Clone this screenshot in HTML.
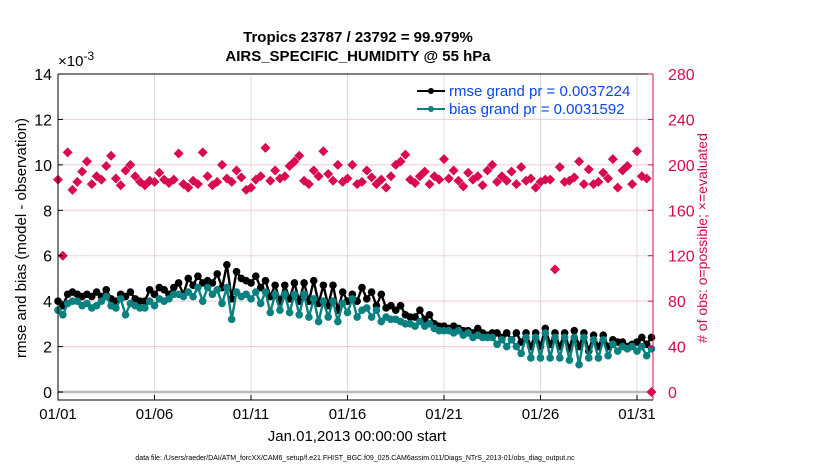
<!DOCTYPE html>
<html><head><meta charset="utf-8"><style>
body{margin:0;background:#fff;}
svg{display:block;font-family:"Liberation Sans",sans-serif;}
</style></head><body>
<svg id="chart" width="830" height="470" xmlns="http://www.w3.org/2000/svg">
<text x="358" y="42" text-anchor="middle" font-size="15" font-weight="bold">Tropics 23787 / 23792 = 99.979%</text>
<text x="358" y="61" text-anchor="middle" font-size="15" font-weight="bold">AIRS_SPECIFIC_HUMIDITY @ 55 hPa</text>
<g id="grid"></g>
<line x1="58" y1="392" x2="653" y2="392" stroke="#bbb" stroke-width="2.5"/>
<g id="marks"></g>
<g id="axes"></g>
<text x="58" y="66" font-size="15">×10<tspan dy="-6" font-size="12">-3</tspan></text>
<text transform="translate(26,238) rotate(-90)" text-anchor="middle" font-size="15">rmse and bias (model - observation)</text>
<text transform="translate(707,238) rotate(-90)" text-anchor="middle" font-size="14" fill="#d90a4e"># of obs: o=possible; ×=evaluated</text>
<text x="357" y="441" text-anchor="middle" font-size="15">Jan.01,2013 00:00:00 start</text>
<text x="355" y="460" text-anchor="middle" font-size="7">data file: /Users/raeder/DAI/ATM_forcXX/CAM6_setup/f.e21.FHIST_BGC.f09_025.CAM6assim.011/Diags_NTrS_2013-01/obs_diag_output.nc</text>
<g>
<line x1="417" y1="91" x2="445" y2="91" stroke="#000" stroke-width="2"/>
<circle cx="431" cy="91" r="3" fill="#000"/>
<text x="449" y="96" font-size="15" fill="#0a46f0">rmse grand pr = 0.0037224</text>
<line x1="417" y1="109" x2="445" y2="109" stroke="#0a8080" stroke-width="2"/>
<circle cx="431" cy="109" r="3" fill="#0a8080"/>
<text x="449" y="114" font-size="15" fill="#0a46f0">bias grand pr = 0.0031592</text>
</g>
</svg>
<script>
const rmse=[4.0,3.8,4.3,4.4, 4.3,4.2,4.3,4.2, 4.4,4.2,4.5,4.1, 4.0,4.3,4.2,4.4, 4.1,4.0,4.0,4.5, 4.3,4.6,4.5,4.3, 4.6,4.8,4.3,5.0, 4.7,5.1,4.8,4.9, 4.8,5.2,4.6,5.6, 4.1,5.3,5.0,4.9, 4.8,5.1,4.6,4.9, 4.2,4.7,4.0,4.7, 4.1,4.8,4.0,4.8, 4.0,4.9,3.9,4.7, 3.8,4.7,3.6,4.4, 4.0,4.3,4.0,4.6, 4.1,4.4,3.8,4.3, 3.7,3.8,3.6,3.8, 3.4,3.3,3.3,3.6, 3.2,3.4,3.0,2.9, 2.9,2.8,2.9,2.8, 2.7,2.7,2.6,2.8, 2.6,2.5,2.6,2.6, 2.4,2.6,2.3,2.6, 2.2,2.6,2.0,2.6, 2.0,2.8,2.1,2.6, 2.0,2.6,1.9,2.7, 2.0,2.6,1.8,2.5, 2.0,2.5,2.0,2.3, 2.2,2.2,2.0,2.1, 2.2,2.4,2.1,2.4];
const bias=[3.6,3.4,3.9,4.0, 4.0,3.8,3.9,3.7, 3.8,4.0,4.2,3.8, 3.7,4.1,3.4,3.9, 3.8,3.7,3.7,4.0, 3.8,4.1,4.0,4.1, 4.3,4.3,4.2,4.4, 4.2,4.6,4.0,4.6, 4.3,4.5,3.9,4.6, 3.2,4.4,4.2,4.3, 4.1,4.4,3.9,4.4, 3.5,4.3,3.6,4.3, 3.5,4.3,3.4,4.3, 3.3,4.1,3.1,4.0, 3.3,4.0,3.1,3.9, 3.5,4.1,3.3,3.6, 3.7,3.3,3.6,3.1, 3.3,3.2,3.2,3.1, 3.0,3.0,2.9,3.1, 2.9,3.0,2.8,2.7, 2.7,2.7,2.6,2.7, 2.5,2.6,2.4,2.5, 2.4,2.4,2.4,2.1, 2.3,2.0,2.3,2.0, 1.7,2.4,1.5,2.4, 1.5,2.6,1.5,2.4, 1.5,2.4,1.4,2.4, 1.2,2.4,1.5,2.3, 1.5,2.3,1.6,2.1, 1.8,2.0,1.9,2.0, 1.8,2.0,1.6,1.9];
const nobs=[187,120,211,178,185,194,203,183,190,187,199,208,188,182,195,200,190,185,182,186,185,193,187,184,187,210,183,180,186,183,
211,190,182,185,200,188,185,195,189,178,180,187,190,215,186,195,188,190,199,203,208,186,183,195,190,212,192,186,200,185,
188,200,183,185,195,189,183,187,180,190,200,203,209,187,184,190,194,183,190,187,205,188,195,186,181,193,187,190,182,195,
200,185,190,186,194,183,198,186,188,180,185,187,187,108,198,185,186,189,203,183,196,183,185,193,188,205,180,195,199,183,
212,190,188,0];
const xTickLabels=["01/01","01/06","01/11","01/16","01/21","01/26","01/31"];
const xTickDays=[0,5,10,15,20,25,30];
const yTicks=[0,2,4,6,8,10,12,14];
const y2Ticks=[0,40,80,120,160,200,240,280];
const NS="http://www.w3.org/2000/svg";
const X0=58,X1=653,PX_DAY=19.3;
const xs=i=>X0+(i/4)*PX_DAY;
const xd=d=>X0+d*PX_DAY;
const yL=v=>392-v*(318/14);
const yR=n=>392-n*(318/280);
function mk(tag,attrs,parent){const e=document.createElementNS(NS,tag);for(const k in attrs)e.setAttribute(k,attrs[k]);parent.appendChild(e);return e;}
const grid=document.getElementById('grid'),marks=document.getElementById('marks'),axes=document.getElementById('axes');
xTickDays.forEach(d=>{const l=mk('line',{x1:xd(d),x2:xd(d),y1:74,y2:400,stroke:'#dcdcdc','stroke-width':1},grid);

});
y2Ticks.forEach(n=>{if(n===0)return;const l=mk('line',{x1:X0,x2:X1,y1:yR(n),y2:yR(n),stroke:'#f4c8d6','stroke-width':1},grid);

});
function series(vals,color,name){
 const pts=vals.map((v,i)=>xs(i).toFixed(1)+','+yL(v).toFixed(1)).join(' ');
 const pl=mk('polyline',{points:pts,fill:'none',stroke:color,'stroke-width':2.4},marks);
 
 
 vals.forEach((v,i)=>{const c=mk('circle',{cx:xs(i),cy:yL(v),r:3.8,fill:color},marks);
 
 });
}
series(rmse,'#000','rmse');
series(bias,'#0a8080','bias');
nobs.forEach((n,i)=>{const x=xs(i),y=yR(n),s=5;
 const p=mk('polygon',{points:`${x},${y-s} ${x+s},${y} ${x},${y+s} ${x-s},${y}`,fill:'#d90a4e'},marks);
 
 });
const box=mk('path',{d:`M${X0},74 H${X1} M${X0},74 V400 H${X1}`,stroke:'#000',fill:'none','stroke-width':1},axes);


const ra=mk('line',{x1:X1,x2:X1,y1:74,y2:400,stroke:'#d90a4e','stroke-width':1},axes);


yTicks.forEach(v=>{mk('line',{x1:X0,x2:X0+5,y1:yL(v),y2:yL(v),stroke:'#000'},axes);
 const t=mk('text',{x:X0-6,y:yL(v)+6,'text-anchor':'end','font-size':16},axes);t.textContent=v;
 
 });
y2Ticks.forEach(n=>{mk('line',{x1:X1,x2:X1-5,y1:yR(n),y2:yR(n),stroke:'#d90a4e'},axes);
 const t=mk('text',{x:X1+15,y:yR(n)+6,'font-size':16,fill:'#d90a4e'},axes);t.textContent=n;
 
 });
xTickDays.forEach((d,i)=>{mk('line',{x1:xd(d),x2:xd(d),y1:400,y2:395,stroke:'#000'},axes);
 const t=mk('text',{x:xd(d),y:419,'text-anchor':'middle','font-size':15},axes);t.textContent=xTickLabels[i];
 
 });
</script>
</body></html>
